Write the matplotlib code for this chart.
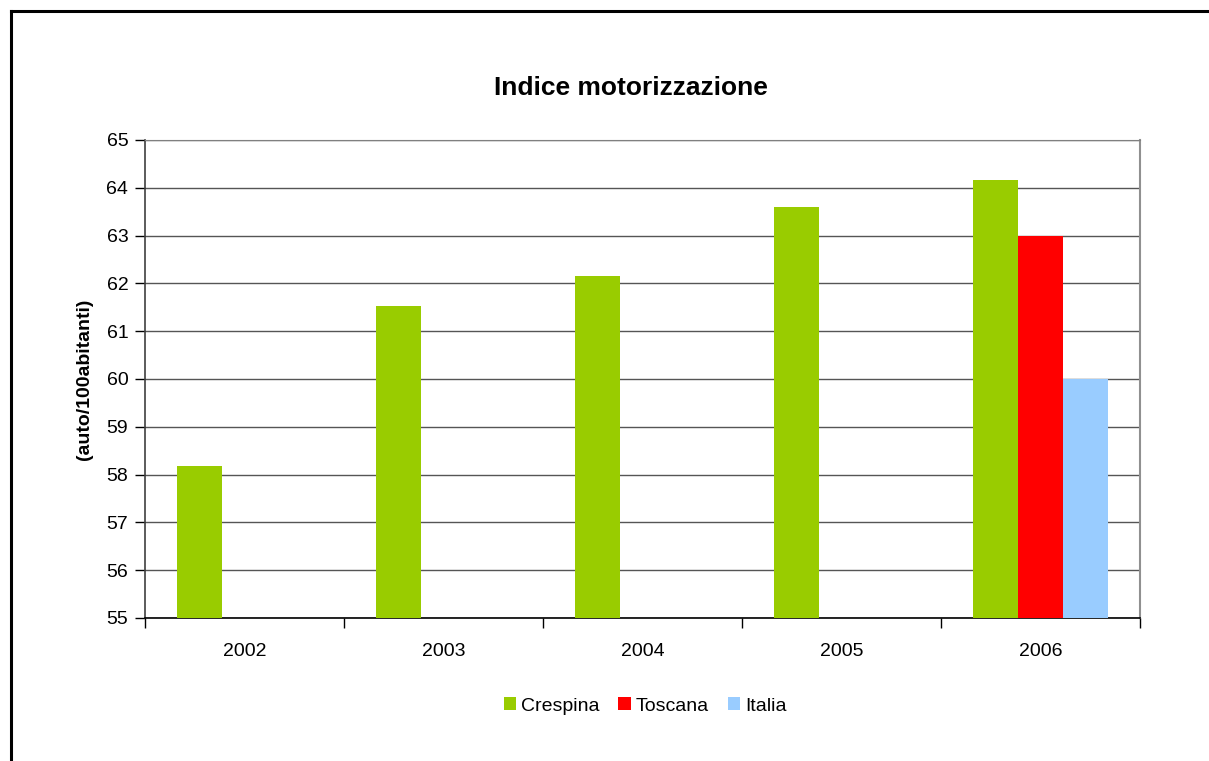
import numpy as np
import matplotlib.pyplot as plt
from matplotlib.lines import Line2D

plt.rcParams['font.family'] = ['Liberation Sans', 'DejaVu Sans']

# data
years = ["2002", "2003", "2004", "2005", "2006"]
crespina = [58.18, 61.53, 62.15, 63.60, 64.16]
toscana = [None, None, None, None, 63.0]
italia = [None, None, None, None, 60.0]

series = [("Crespina", crespina, "#99CC00"),
          ("Toscana", toscana, "#FF0000"),
          ("Italia", italia, "#99CCFF")]

fig = plt.figure(figsize=(12.09, 7.61), dpi=100)
ax = fig.add_axes([145 / 1209, 143 / 761, 995 / 1209, 478 / 761])

x = np.arange(len(years))
bw = 0.225
for k, (name, vals, col) in enumerate(series):
    xs = [xi + (k - 1) * bw for xi, v in zip(x, vals) if v is not None]
    hs = [v for v in vals if v is not None]
    ax.bar(xs, hs, width=bw, color=col, label=name, zorder=3, linewidth=0)

ax.set_ylim(55, 65)
ax.set_xlim(-0.5, len(years) - 0.5)
ax.set_yticks(range(55, 66))
ax.yaxis.grid(True, color="#555555", linewidth=1.0, zorder=0)

ax.set_xticks(x)
ax.set_xticklabels(years, fontsize=14)
ax.set_xticks(np.arange(-0.5, len(years)), minor=True)
ax.tick_params(axis="x", which="major", length=0, pad=18)
ax.tick_params(axis="x", which="minor", length=7, width=1, direction="out")
ax.tick_params(axis="y", labelsize=14, length=7, width=1, direction="out", pad=5)

ax.spines["left"].set_color("#404040")
ax.spines["left"].set_linewidth(1.2)
ax.spines["bottom"].set_color("black")
ax.spines["bottom"].set_linewidth(1.2)
ax.spines["top"].set_color("#808080")
ax.spines["right"].set_color("#909090")
ax.spines["right"].set_linewidth(1.5)

ax.set_ylabel("(auto/100abitanti)", fontsize=14, fontweight="bold", labelpad=10)
fig.text(631 / 1209, 1 - 88 / 761, "Indice motorizzazione", fontsize=19,
         fontweight="bold", ha="center", va="center")

fig.legend(loc="center", bbox_to_anchor=(645 / 1209, 1 - 706 / 761), ncol=3,
           frameon=False, fontsize=14, handlelength=0.62, handleheight=0.62,
           handletextpad=0.25, columnspacing=1.0, borderpad=0)

# outer chart frame (only left and top visible in the reference)
fx = 11 / 1209
fy = 1 - 11 / 761
fig.add_artist(Line2D([fx, fx], [0, fy], transform=fig.transFigure, color="black", linewidth=2.2))
fig.add_artist(Line2D([fx, 1], [fy, fy], transform=fig.transFigure, color="black", linewidth=2.2))

fig.savefig("out.png", dpi=100)
